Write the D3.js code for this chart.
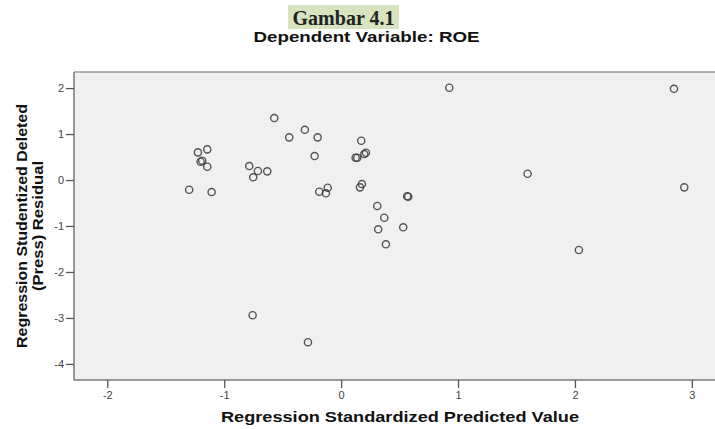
<!DOCTYPE html>
<html>
<head>
<meta charset="utf-8">
<script src="https://cdn.jsdelivr.net/npm/d3@7"></script>
<style>
  body { margin: 0; background: #fff; }
  svg { display: block; font-family: "Liberation Sans", Arial, sans-serif; }
</style>
</head>
<body>
<div id="chart"></div>
<script>
// regression standardized predicted value (x) vs studentized deleted residual (y)
const predictedValues = [
    -1.30, -1.225, -1.145, -1.202, -1.188, -1.145, -1.108,
    -0.786, -0.752, -0.712, -0.632, -0.572, -0.444, -0.310,
    -0.201, -0.227, -0.187, -0.115, -0.130,
    0.172, 0.124, 0.138, 0.198, 0.212, 0.161, 0.178,
    0.309, 0.369, 0.317, 0.383, 0.531, 0.574, 0.565,
    0.925, 1.595, 2.034, 2.847, 2.935, -0.757, -0.284
];
const deletedResiduals = [
    -0.211, 0.602, 0.667, 0.398, 0.420, 0.289, -0.261,
    0.304, 0.059, 0.196, 0.189, 1.348, 0.928, 1.093,
    0.928, 0.522, -0.254, -0.167, -0.289,
    0.854, 0.485, 0.485, 0.565, 0.593, -0.159, -0.087,
    -0.565, -0.820, -1.072, -1.398, -1.028, -0.363, -0.352,
    2.007, 0.137, -1.522, 1.985, -0.159, -2.941, -3.528
];
const xTicks = [-2, -1, 0, 1, 2, 3];
const yTicks = [-4, -3, -2, -1, 0, 1, 2];

const width = 715, height = 429;
const plot = { left: 74, right: 715, top: 72, bottom: 380 };

const svg = d3.select("#chart")
    .append("svg")
    .attr("width", width)
    .attr("height", height);

// figure caption with highlight
svg.append("rect")
    .attr("x", 288).attr("y", 5)
    .attr("width", 111).attr("height", 24)
    .attr("fill", "#d8e4bf");
svg.append("text")
    .attr("x", 343.5).attr("y", 25)
    .attr("text-anchor", "middle")
    .attr("font-family", "'Liberation Serif', 'Times New Roman', serif")
    .attr("font-weight", "bold")
    .attr("font-size", 20)
    .attr("fill", "#222")
    .text("Gambar 4.1");

svg.append("text")
    .attr("x", 366.5).attr("y", 42)
    .attr("text-anchor", "middle")
    .attr("font-weight", "bold")
    .attr("font-size", 14.5)
    .attr("fill", "#111")
    .attr("textLength", 226)
    .attr("lengthAdjust", "spacingAndGlyphs")
    .text("Dependent Variable: ROE");

const x = d3.scaleLinear().domain([-2.285, 3.198]).range([plot.left, plot.right]);
const y = d3.scaleLinear().domain([-4.35, 2.35]).range([plot.bottom, plot.top]);

// plot area
svg.append("rect")
    .attr("x", plot.left).attr("y", plot.top)
    .attr("width", plot.right - plot.left + 2)
    .attr("height", plot.bottom - plot.top)
    .attr("fill", "#f0f0f0");

svg.append("line")
    .attr("x1", plot.left).attr("x2", width)
    .attr("y1", plot.top).attr("y2", plot.top)
    .attr("stroke", "#999").attr("stroke-width", 1.5);
svg.append("line")
    .attr("x1", plot.left).attr("x2", plot.left)
    .attr("y1", plot.top).attr("y2", plot.bottom)
    .attr("stroke", "#777").attr("stroke-width", 1.5);
svg.append("line")
    .attr("x1", plot.left).attr("x2", width)
    .attr("y1", plot.bottom).attr("y2", plot.bottom)
    .attr("stroke", "#777").attr("stroke-width", 1.5);

const tickLabel = d => String(d); // plain hyphen minus, like the original

const xAxis = svg.append("g")
    .attr("transform", `translate(0,${plot.bottom})`)
    .call(d3.axisBottom(x).tickValues(xTicks).tickSize(8).tickPadding(3).tickFormat(tickLabel));
const yAxis = svg.append("g")
    .attr("transform", `translate(${plot.left},0)`)
    .call(d3.axisLeft(y).tickValues(yTicks).tickSize(8).tickPadding(2).tickFormat(tickLabel));

[xAxis, yAxis].forEach(g => {
    g.select(".domain").remove();
    g.selectAll(".tick line").attr("stroke", "#555").attr("stroke-width", 1.3);
    g.selectAll(".tick text")
        .attr("fill", "#444")
        .attr("font-size", 11)
        .attr("font-family", "'Liberation Sans', Arial, sans-serif");
});

// axis titles
svg.append("text")
    .attr("x", 400).attr("y", 422)
    .attr("text-anchor", "middle")
    .attr("font-weight", "bold")
    .attr("font-size", 15)
    .attr("fill", "#111")
    .attr("textLength", 358)
    .attr("lengthAdjust", "spacingAndGlyphs")
    .text("Regression Standardized Predicted Value");

const yTitle = svg.append("text")
    .attr("transform", "translate(0,226) rotate(-90)")
    .attr("text-anchor", "middle")
    .attr("font-weight", "bold")
    .attr("font-size", 14)
    .attr("fill", "#111");
yTitle.append("tspan").attr("x", 0).attr("y", 27)
    .attr("textLength", 244).attr("lengthAdjust", "spacingAndGlyphs")
    .text("Regression Studentized Deleted");
yTitle.append("tspan").attr("x", 0).attr("y", 43)
    .attr("textLength", 130).attr("lengthAdjust", "spacingAndGlyphs")
    .text("(Press) Residual");

// points
const points = predictedValues.map((v, i) => ({ pred: v, resid: deletedResiduals[i] }));
svg.selectAll(".pt")
    .data(points)
    .enter().append("circle")
    .attr("class", "pt")
    .attr("cx", d => x(d.pred))
    .attr("cy", d => y(d.resid))
    .attr("r", 3.6)
    .attr("fill", "none")
    .attr("stroke", "#3a3a3a")
    .attr("stroke-width", 1.4)
    .attr("stroke-opacity", 0.85);
</script>
</body>
</html>
